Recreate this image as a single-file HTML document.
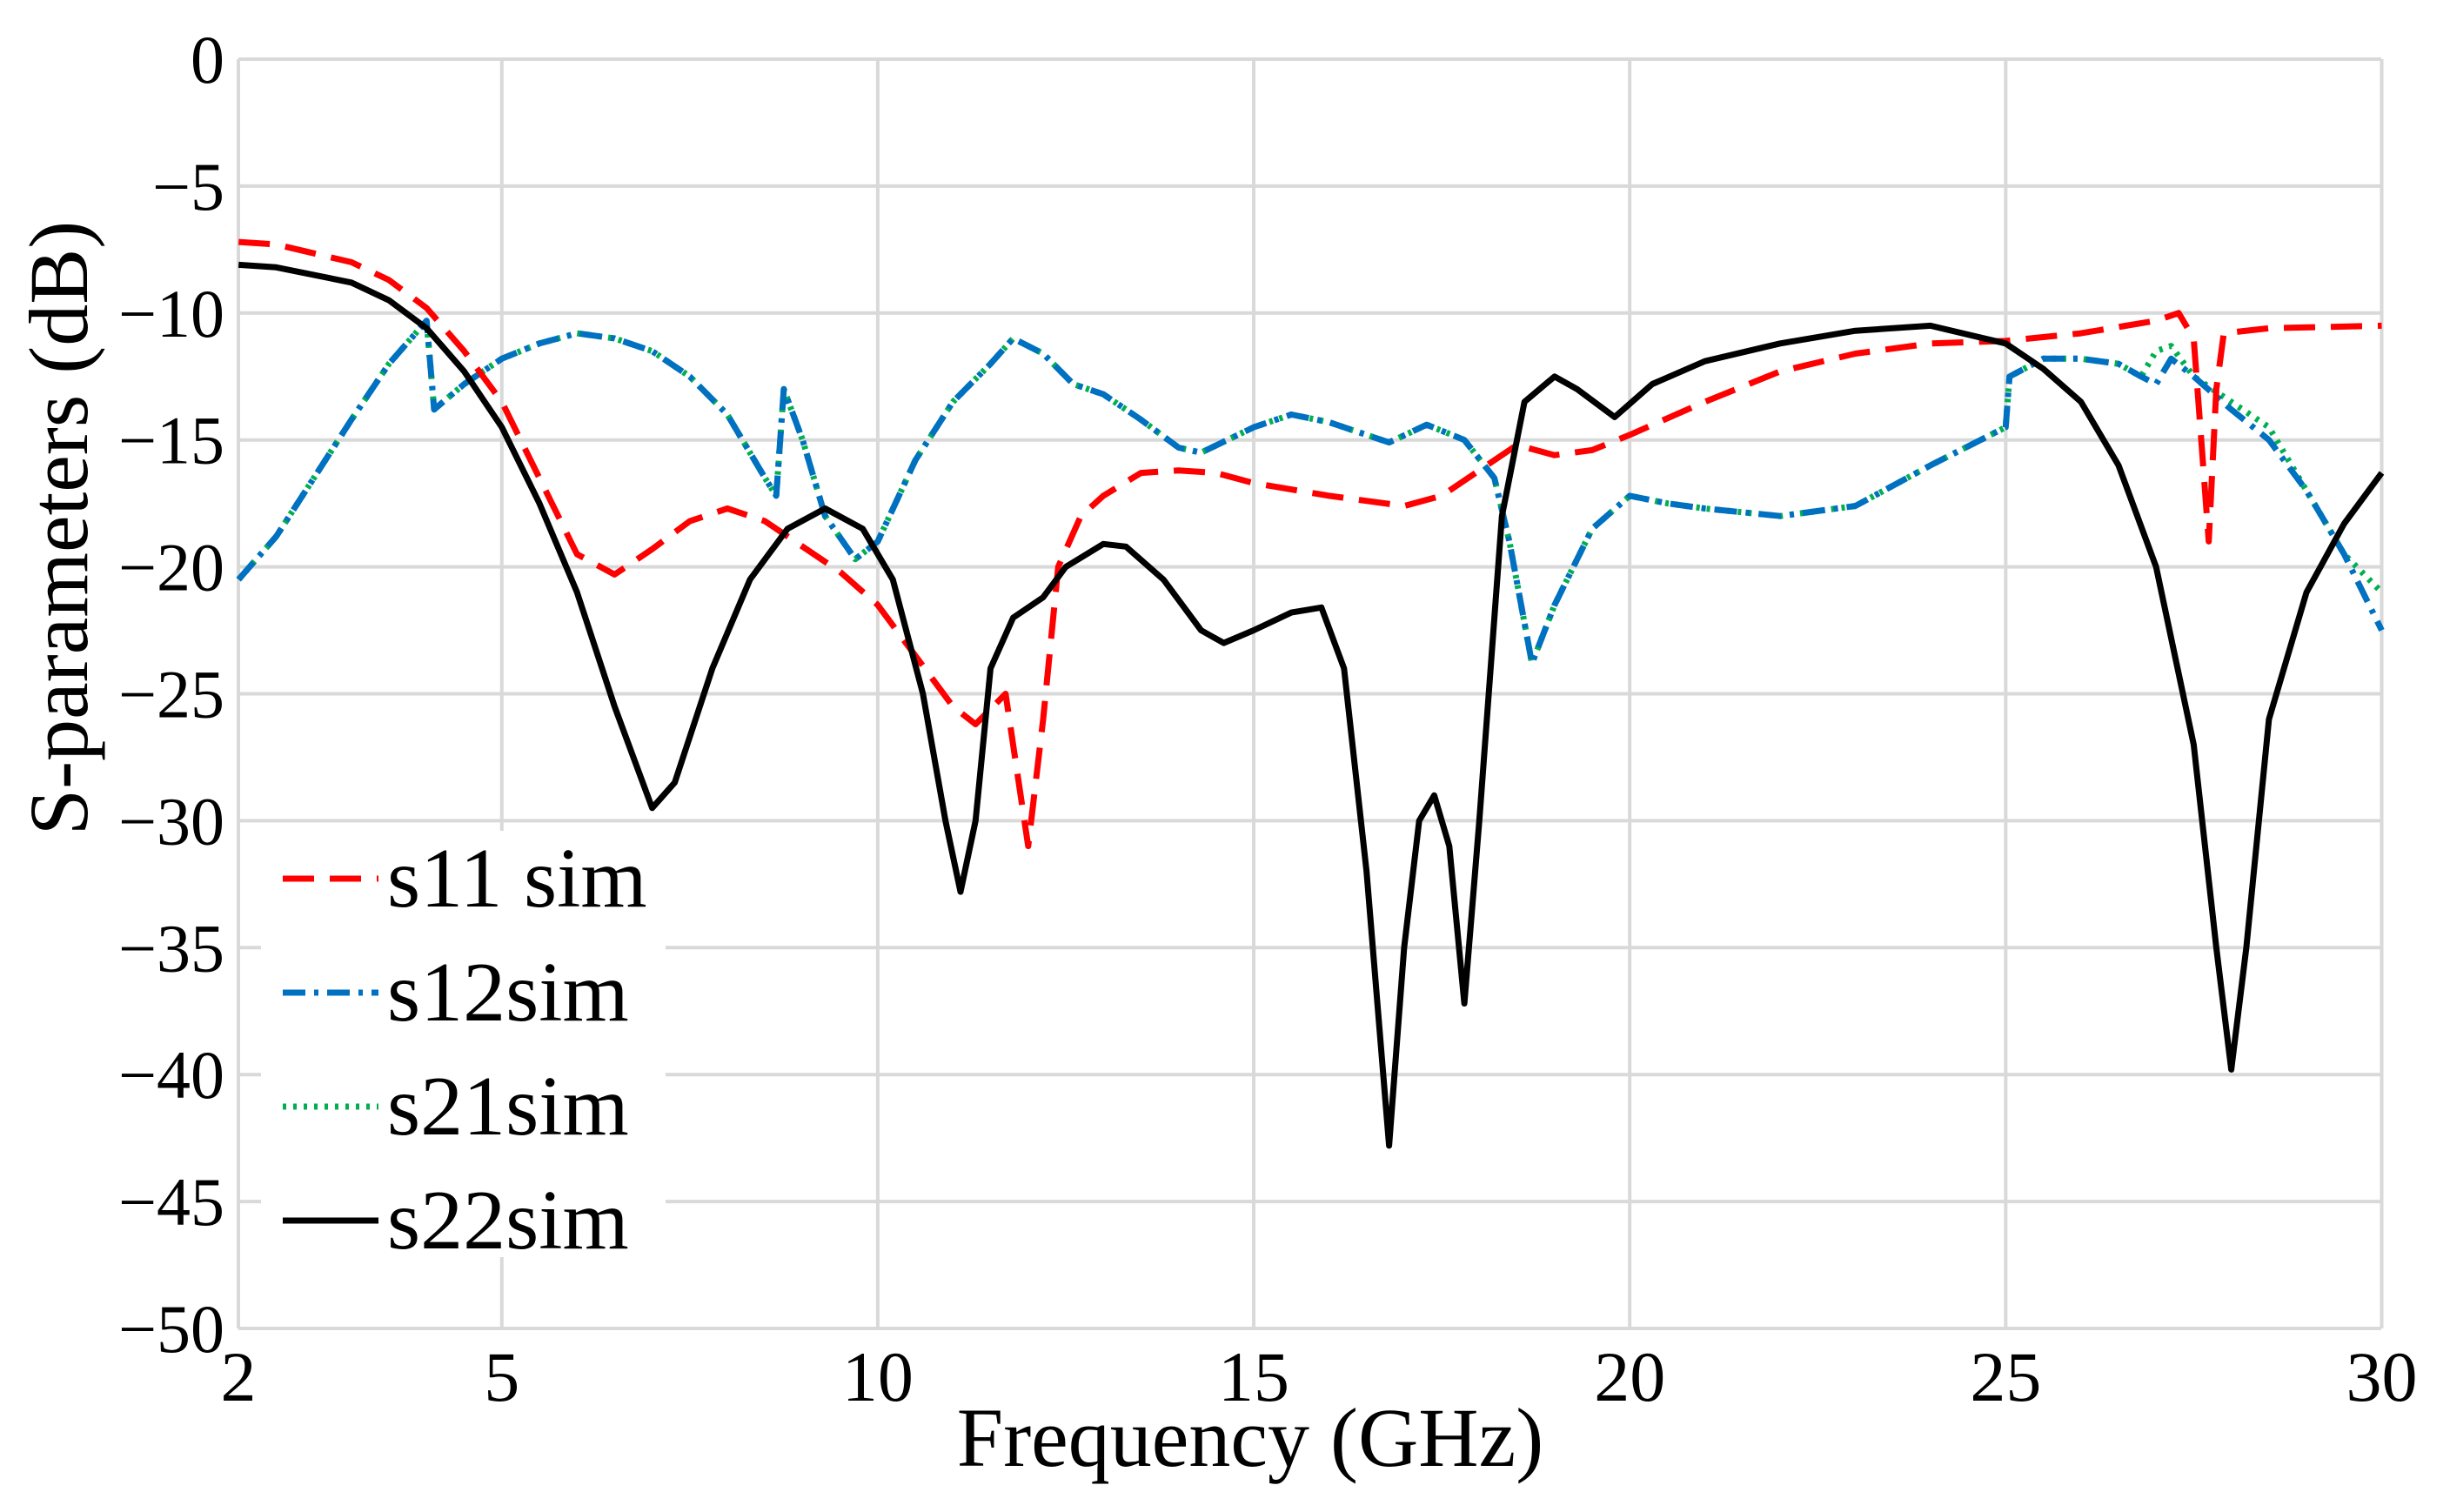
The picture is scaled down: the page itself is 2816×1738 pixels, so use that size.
<!DOCTYPE html>
<html><head><meta charset="utf-8"><style>
html,body{margin:0;padding:0;background:#fff}
svg text{font-family:"Liberation Serif",serif;fill:#000}
</style></head><body>
<svg id="chart" width="2816" height="1733" viewBox="0 0 2816 1733" xmlns="http://www.w3.org/2000/svg">
<g id="grid"></g>
<g id="series"></g>
<g id="ticks"></g>
<text x="1437" y="1685" font-size="96" text-anchor="middle">Frequency (GHz)</text>
<text transform="translate(100,607) rotate(-90)" font-size="96" text-anchor="middle">S-parameters (dB)</text>
<g id="legend"></g>
</svg>
<script>
const xTicks=[2,5,10,15,20,25,30];
const yTicks=[0,-5,-10,-15,-20,-25,-30,-35,-40,-45,-50];
const s11F=[1.5,2,3,3.5,4,4.5,5,5.5,6,6.5,7,7.5,8,8.5,9,9.5,10,10.5,11,11.3,11.7,11.9,12,12.2,12.4,12.7,13,13.5,14,14.5,15,16,17,17.5,18,18.5,19,19.5,20,21,22,23,24,25,26,27,27.3,27.5,27.6,27.7,27.8,27.9,28.5,30];
const s11V=[-7.2,-7.3,-8,-8.7,-9.8,-11.5,-13.5,-16.5,-19.5,-20.3,-19.3,-18.2,-17.7,-18.2,-19.2,-20.2,-21.5,-23.5,-25.5,-26.2,-25,-29,-31,-26,-20,-18,-17.2,-16.3,-16.2,-16.3,-16.7,-17.2,-17.6,-17.2,-16.2,-15.2,-15.6,-15.4,-14.8,-13.5,-12.3,-11.6,-11.2,-11.1,-10.8,-10.3,-10,-11,-15,-19,-13,-10.8,-10.6,-10.5];
const s21F=[1.5,2,2.5,3,3.5,4,4.1,4.5,5,5.5,6,6.5,7,7.5,8,8.5,8.65,8.75,9,9.3,9.7,10,10.5,11,11.5,11.8,12.2,12.6,13,13.5,14,14.3,15,15.5,16,16.5,16.8,17.3,17.8,18.2,18.4,18.7,19,19.5,20,20.5,21,22,23,24,25,25.05,25.5,26,26.5,26.8,27,27.2,27.5,28,28.5,29,29.5,30];
const s21V=[-20.5,-18.8,-16.5,-14.2,-12,-10.3,-13.8,-12.8,-11.8,-11.2,-10.8,-11,-11.5,-12.5,-14,-16.5,-17.2,-13,-15,-18,-19.7,-19,-15.8,-13.5,-12,-11,-11.6,-12.8,-13.2,-14.2,-15.3,-15.5,-14.5,-14,-14.3,-14.8,-15.1,-14.4,-15,-16.5,-19,-23.8,-21.5,-18.5,-17.2,-17.5,-17.7,-18,-17.6,-16,-14.5,-12.5,-11.8,-11.8,-12,-12.5,-11.5,-11.3,-12.5,-13.5,-14.5,-17,-19.5,-21];
const s12V=[-20.5,-18.8,-16.5,-14.2,-12,-10.3,-13.8,-12.8,-11.8,-11.2,-10.8,-11,-11.5,-12.5,-14,-16.5,-17.2,-13,-15,-18,-19.7,-19,-15.8,-13.5,-12,-11,-11.6,-12.8,-13.2,-14.2,-15.3,-15.5,-14.5,-14,-14.3,-14.8,-15.1,-14.4,-15,-16.5,-19,-23.8,-21.5,-18.5,-17.2,-17.5,-17.7,-18,-17.6,-16,-14.5,-12.5,-11.8,-11.8,-12,-12.5,-12.8,-11.8,-12.5,-13.8,-15,-17,-19.5,-22.5];
const s22F=[1.5,2,3,3.5,4,4.5,5,5.5,6,6.5,7,7.3,7.8,8.3,8.8,9.3,9.8,10.2,10.6,10.9,11.1,11.3,11.5,11.8,12.2,12.5,13,13.3,13.8,14.3,14.6,15,15.5,15.9,16.2,16.5,16.8,17,17.2,17.4,17.6,17.8,18,18.3,18.6,19,19.3,19.8,20.3,21,22,23,24,25,25.5,26,26.5,27,27.5,27.8,28,28.2,28.5,29,29.5,30];
const s22V=[-8.1,-8.2,-8.8,-9.5,-10.6,-12.3,-14.5,-17.5,-21,-25.5,-29.5,-28.5,-24,-20.5,-18.5,-17.7,-18.5,-20.5,-25,-30,-32.8,-30,-24,-22,-21.2,-20,-19.1,-19.2,-20.5,-22.5,-23,-22.5,-21.8,-21.6,-24,-32,-42.8,-35,-30,-29,-31,-37.2,-30,-18,-13.5,-12.5,-13,-14.1,-12.8,-11.9,-11.2,-10.7,-10.5,-11.2,-12.2,-13.5,-16,-20,-27,-35,-39.8,-35,-26,-21,-18.3,-16.3];
const L=274,R=2737,T=68,B=1527;
const xS=f=>144.6+86.43*f;
const yS=d=>T+(-d)*(B-T)/50;
const NS='http://www.w3.org/2000/svg';
function mk(t,a,p){const e=document.createElementNS(NS,t);for(const k in a)e.setAttribute(k,a[k]);p.appendChild(e);return e;}
const grid=document.getElementById('grid'),ticks=document.getElementById('ticks');
yTicks.forEach(v=>{
 const l=mk('line',{x1:L,x2:R,y1:yS(v),y2:yS(v),stroke:'#d9d9d9','stroke-width':4},grid);
 
 
 const t=mk('text',{x:258,y:yS(v)+27,'font-size':78,'text-anchor':'end'},ticks);
 t.textContent=v<0?'\u2212'+(-v):String(v);
 
 
});
xTicks.forEach(v=>{
 const x=v===2?L:xS(v);
 const l=mk('line',{x1:x,x2:x,y1:T,y2:B,stroke:'#d9d9d9','stroke-width':4},grid);
 
 
 const t=mk('text',{x:x,y:1610,'font-size':82,'text-anchor':'middle'},ticks);
 t.textContent=String(v);
 
 
});
const sg=document.getElementById('series');
function line(F,V,col,dash,name){
 const d=F.map((f,i)=>(i?'L':'M')+xS(f).toFixed(1)+','+yS(V[i]).toFixed(1)).join('');
 const p=mk('path',{d:d,fill:'none',stroke:col,'stroke-width':7,'stroke-dasharray':dash,'stroke-linejoin':'round'},sg);
 
 
}
line(s21F,s21V,'#00b050','4 8','s21-line');
line(s21F,s12V,'#0070c0','26 10 5 10','s12-line');
line(s11F,s11V,'#ff0000','36 18','s11-line');
line(s22F,s22V,'#000000','none','s22-line');
const lg=document.getElementById('legend');
const bg=mk('rect',{x:300,y:955,width:465,height:490,fill:'#fff'},lg);


const ents=[['s11 sim','#ff0000','36 18'],['s12sim','#0070c0','26 10 5 10'],['s21sim','#00b050','4 8'],['s22sim','#000','none']];
ents.forEach((e,i)=>{
 const y=1010+i*131;
 const s=mk('line',{x1:325,x2:435,y1:y,y2:y,stroke:e[1],'stroke-width':7,'stroke-dasharray':e[2]},lg);
 
 
 const t=mk('text',{x:445,y:y+32,'font-size':98},lg);
 t.textContent=e[0];
 
 
});
</script>
</body></html>
